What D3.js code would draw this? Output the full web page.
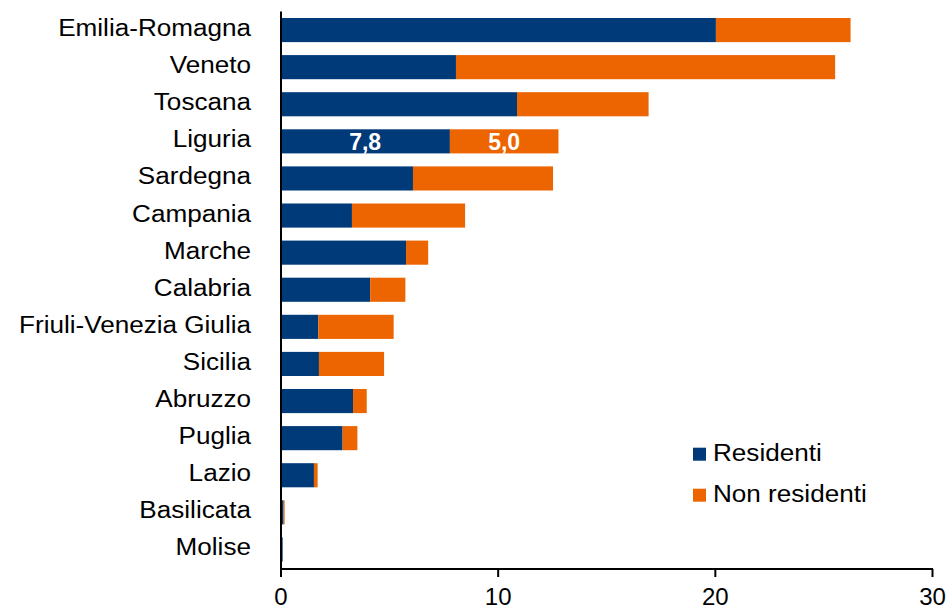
<!DOCTYPE html>
<html><head><meta charset="utf-8">
<script src="https://cdn.jsdelivr.net/npm/d3@7"></script>
<style>body{margin:0;background:#fff}svg{display:block;font-family:"Liberation Sans",Arial,sans-serif}</style>
</head><body>
<svg id="c" width="949" height="610"></svg>
<script>
const regions = ["Emilia-Romagna","Veneto","Toscana","Liguria","Sardegna","Campania","Marche","Calabria","Friuli-Venezia Giulia","Sicilia","Abruzzo","Puglia","Lazio","Basilicata","Molise"];
const residenti =    [20.05, 8.08, 10.89, 7.8, 6.1, 3.29, 5.78, 4.13, 1.74, 1.77, 3.34, 2.86, 1.54, 0.14, 0.1];
const nonResidenti = [6.2, 17.46, 6.06, 5.0, 6.45, 5.21, 1.02, 1.62, 3.47, 3.0, 0.63, 0.68, 0.17, 0.05, 0.0];
const xTicks = [0, 10, 20, 30];
const seriesNames = ["Residenti", "Non residenti"];
const colors = ["#003a78", "#ec6500"];
const labelled = "Liguria";

const svg = d3.select("#c");
const x = d3.scaleLinear().domain([0, 30]).range([280.5, 932]);
const y = d3.scaleBand().domain(regions).range([11.5, 568]).paddingInner(0.35).paddingOuter(0.175);

function stretch(sel, k) {
  sel.each(function() {
    const w = this.getComputedTextLength();
    d3.select(this).attr("textLength", w * k).attr("lengthAdjust", "spacingAndGlyphs");
  });
}

const data = regions.map((r, i) => ({region: r, Residenti: residenti[i], "Non residenti": nonResidenti[i]}));
const stack = d3.stack().keys(seriesNames)(data);

svg.append("g").selectAll("g").data(stack).join("g")
  .attr("fill", (d, i) => colors[i])
  .selectAll("rect").data(d => d).join("rect")
  .attr("x", d => x(d[0]))
  .attr("width", d => Math.max(0, x(d[1]) - x(d[0])))
  .attr("y", d => y(d.data.region))
  .attr("height", y.bandwidth());

// data labels for Liguria
stack.forEach(s => {
  s.filter(d => d.data.region === labelled).forEach(d => {
    svg.append("text")
      .attr("x", (x(d[0]) + x(d[1])) / 2)
      .attr("y", y(d.data.region) + y.bandwidth() / 2 + 8.5)
      .attr("text-anchor", "middle")
      .attr("fill", "#fff").attr("font-weight", "bold").attr("font-size", 23)
      .text(d3.format(".1f")(d[1] - d[0]).replace(".", ","));
  });
});

// category labels
svg.append("g").selectAll("text").data(regions).join("text")
  .attr("x", 251)
  .attr("y", d => y(d) + y.bandwidth() / 2 + 6)
  .attr("text-anchor", "end")
  .attr("font-size", 23.5).attr("fill", "#000")
  .text(d => d)
  .call(stretch, 1.11);

// y axis line
svg.append("line").attr("x1", 281).attr("x2", 281).attr("y1", 11.5).attr("y2", 569)
  .attr("stroke", "#000").attr("stroke-width", 2);

// x axis
const xAxis = svg.append("g").attr("transform", "translate(0,569)")
  .call(d3.axisBottom(x).tickValues(xTicks).tickSize(8).tickSizeOuter(0).tickFormat(d3.format("d")));
xAxis.select(".domain").attr("stroke", "#000").attr("stroke-width", 2).attr("d", `M${x(0) - 0.5},0H${x(30) + 1}`);
xAxis.selectAll(".tick line").attr("stroke", "#000").attr("stroke-width", 2);
xAxis.selectAll(".tick text").attr("font-size", 24).attr("fill", "#000")
  .attr("font-family", "Liberation Sans, Arial, sans-serif")
  .attr("y", 35.5).attr("dy", 0);

// legend
const legend = svg.append("g");
seriesNames.forEach((n, i) => {
  const base = 460.7 + i * 41;
  legend.append("rect").attr("x", 693).attr("y", base - 13).attr("width", 13).attr("height", 13).attr("fill", colors[i]);
  legend.append("text").attr("x", 713).attr("y", base)
    .attr("font-size", 23.5).attr("fill", "#000").text(n)
    .call(stretch, 1.11);
});
</script>
</body></html>
